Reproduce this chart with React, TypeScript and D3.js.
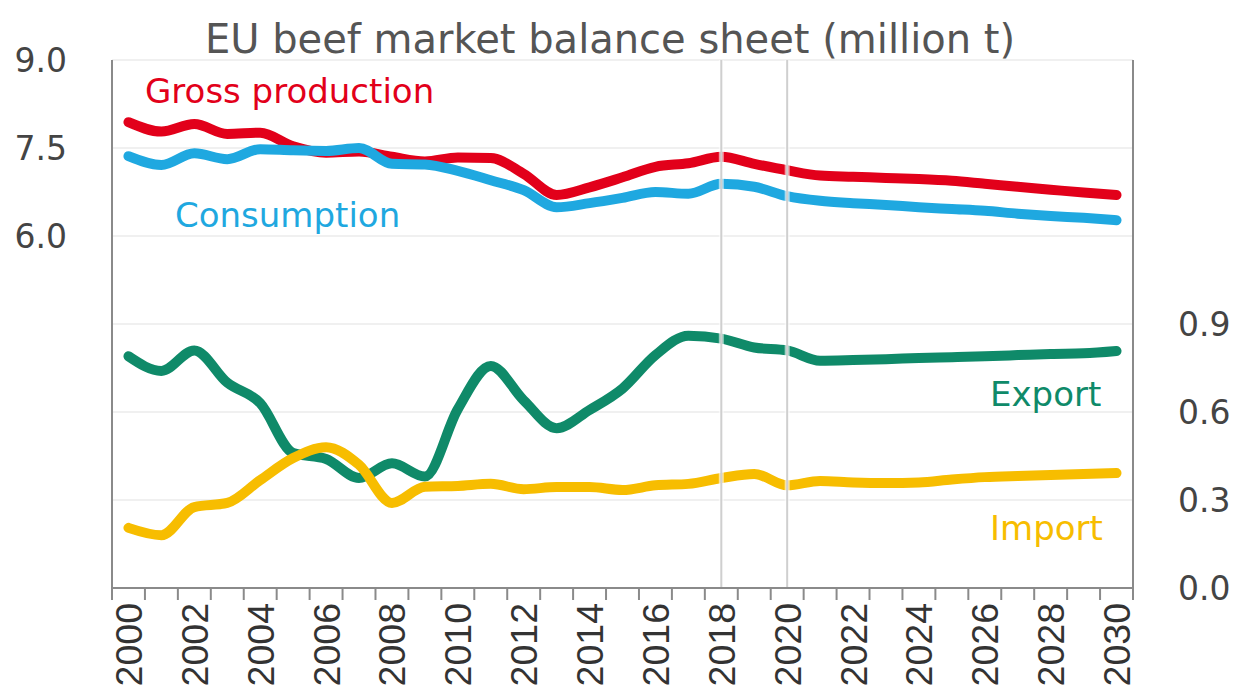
import * as React from 'react';
import {useEffect, useRef} from 'react';
import * as d3 from 'd3';

const years = d3.range(2000, 2031);

// million t, left axis
const grossProduction = [7.94, 7.78, 7.91, 7.74, 7.76, 7.53, 7.42, 7.44, 7.35, 7.27, 7.34, 7.33, 7.06, 6.70, 6.83, 7.00, 7.18, 7.24, 7.35, 7.23, 7.12, 7.03, 7.01, 6.99, 6.97, 6.94, 6.89, 6.84, 6.79, 6.74, 6.70];
const consumption = [7.36, 7.21, 7.41, 7.31, 7.48, 7.46, 7.45, 7.50, 7.23, 7.22, 7.11, 6.95, 6.78, 6.49, 6.56, 6.65, 6.75, 6.72, 6.89, 6.84, 6.68, 6.60, 6.56, 6.53, 6.49, 6.46, 6.43, 6.38, 6.34, 6.31, 6.27];

// million t, right axis
const exportVals = [0.79, 0.74, 0.81, 0.70, 0.63, 0.46, 0.44, 0.375, 0.425, 0.38, 0.61, 0.757, 0.64, 0.545, 0.607, 0.68, 0.794, 0.86, 0.85, 0.82, 0.81, 0.775, 0.777, 0.78, 0.784, 0.787, 0.79, 0.794, 0.798, 0.80, 0.808];
const importVals = [0.205, 0.18, 0.276, 0.29, 0.368, 0.443, 0.48, 0.42, 0.29, 0.345, 0.348, 0.355, 0.337, 0.344, 0.344, 0.334, 0.35, 0.355, 0.375, 0.389, 0.35, 0.365, 0.36, 0.358, 0.36, 0.37, 0.378, 0.382, 0.385, 0.389, 0.392];

const leftTicks = [6.0, 7.5, 9.0];
const rightTicks = [0.0, 0.3, 0.6, 0.9];
const gridTicks = [0, 1.5, 3, 4.5, 6, 7.5, 9];
const markerYears = [2018, 2020];

const series = [
  {name: 'Gross production', values: grossProduction, axis: 'left', color: '#e2001a', lx: 145, ly: 103},
  {name: 'Consumption', values: consumption, axis: 'left', color: '#1fa8e0', lx: 175, ly: 227},
  {name: 'Export', values: exportVals, axis: 'right', color: '#0f8a69', lx: 990, ly: 406},
  {name: 'Import', values: importVals, axis: 'right', color: '#f7bd00', lx: 990, ly: 540},
];

const W = 1237, H = 691;
const margin = {top: 60, right: 104, bottom: 103, left: 112};
const TICK_FONT = "'Liberation Sans', Arial, sans-serif";
const FONT = "'DejaVu Sans', sans-serif";

export default function App() {
  const ref = useRef<SVGSVGElement>(null);

  useEffect(() => {
    const svg = d3.select(ref.current);
    svg.selectAll('*').remove();

    const x = d3.scaleBand<number>()
      .domain(years)
      .range([margin.left, W - margin.right])
      .paddingInner(0).paddingOuter(0);
    const cx = (yr: number) => (x(yr) as number) + x.bandwidth() / 2;

    const yL = d3.scaleLinear().domain([0, 9]).range([H - margin.bottom, margin.top]);
    const yR = d3.scaleLinear().domain([0, 1.8]).range([H - margin.bottom, margin.top]);

    // gridlines
    svg.append('g')
      .selectAll('line')
      .data(gridTicks)
      .join('line')
      .attr('x1', margin.left).attr('x2', W - margin.right)
      .attr('y1', d => yL(d)).attr('y2', d => yL(d))
      .attr('stroke', '#ebebeb').attr('stroke-width', 1.5);

    // lines
    series.forEach(s => {
      const y = s.axis === 'left' ? yL : yR;
      const line = d3.line<number>()
        .x((_, i) => cx(years[i]))
        .y(d => y(d))
        .curve(d3.curveMonotoneX);
      svg.append('path')
        .datum(s.values)
        .attr('d', line)
        .attr('fill', 'none')
        .attr('stroke', s.color)
        .attr('stroke-width', 10)
        .attr('stroke-linecap', 'round')
        .attr('stroke-linejoin', 'round');
    });

    // projection marker lines
    markerYears.forEach(yr => {
      svg.append('line')
        .attr('x1', cx(yr)).attr('x2', cx(yr))
        .attr('y1', margin.top).attr('y2', H - margin.bottom)
        .attr('stroke', 'white').attr('stroke-opacity', 0.6).attr('stroke-width', 5);
      svg.append('line')
        .attr('x1', cx(yr)).attr('x2', cx(yr))
        .attr('y1', margin.top).attr('y2', H - margin.bottom)
        .attr('stroke', '#cfcfcf').attr('stroke-width', 2);
    });

    // frame: left, right axis lines
    [margin.left, W - margin.right].forEach(px => {
      svg.append('line')
        .attr('x1', px).attr('x2', px)
        .attr('y1', margin.top).attr('y2', H - margin.bottom)
        .attr('stroke', '#8a8a8a').attr('stroke-width', 2);
    });

    // x axis
    const xAxis = svg.append('g')
      .attr('transform', `translate(0,${H - margin.bottom})`);
    xAxis.append('line')
      .attr('x1', margin.left).attr('x2', W - margin.right)
      .attr('stroke', '#8a8a8a').attr('stroke-width', 2);
    const bounds = years.map(yr => x(yr) as number).concat([W - margin.right]);
    xAxis.selectAll('line.tick')
      .data(bounds)
      .join('line')
      .attr('class', 'tick')
      .attr('x1', d => d).attr('x2', d => d)
      .attr('y1', 0).attr('y2', 12)
      .attr('stroke', '#8a8a8a').attr('stroke-width', 2);
    xAxis.selectAll('text')
      .data(years.filter(yr => yr % 2 === 0))
      .join('text')
      .attr('transform', d => `translate(${cx(d)},15) rotate(-90)`)
      .attr('text-anchor', 'end')
      .attr('dy', '0.36em')
      .attr('font-family', TICK_FONT)
      .attr('font-size', 37.5)
      .attr('fill', '#333')
      .text(d => String(d));

    // left labels
    svg.append('g')
      .selectAll('text')
      .data(leftTicks)
      .join('text')
      .attr('x', 67).attr('y', d => yL(d))
      .attr('dy', '0.36em')
      .attr('text-anchor', 'end')
      .attr('font-family', FONT)
      .attr('font-size', 33)
      .attr('fill', '#444')
      .text(d => d3.format('.1f')(d));

    // right labels
    svg.append('g')
      .selectAll('text')
      .data(rightTicks)
      .join('text')
      .attr('x', 1178).attr('y', d => yR(d))
      .attr('dy', '0.36em')
      .attr('font-family', FONT)
      .attr('font-size', 33)
      .attr('fill', '#444')
      .text(d => d3.format('.1f')(d));

    // series labels
    svg.append('g')
      .selectAll('text')
      .data(series)
      .join('text')
      .attr('x', d => d.lx).attr('y', d => d.ly)
      .attr('font-family', FONT)
      .attr('font-size', 34)
      .attr('fill', d => d.color)
      .text(d => d.name);

    // title
    svg.append('text')
      .attr('x', 610).attr('y', 53)
      .attr('text-anchor', 'middle')
      .attr('font-family', FONT)
      .attr('font-size', 40)
      .attr('fill', '#555')
      .text('EU beef market balance sheet (million t)');
  }, []);

  return (
    <svg ref={ref} width={W} height={H}
      style={{position: 'absolute', left: 0, top: 0, background: 'white'}}/>
  );
}
